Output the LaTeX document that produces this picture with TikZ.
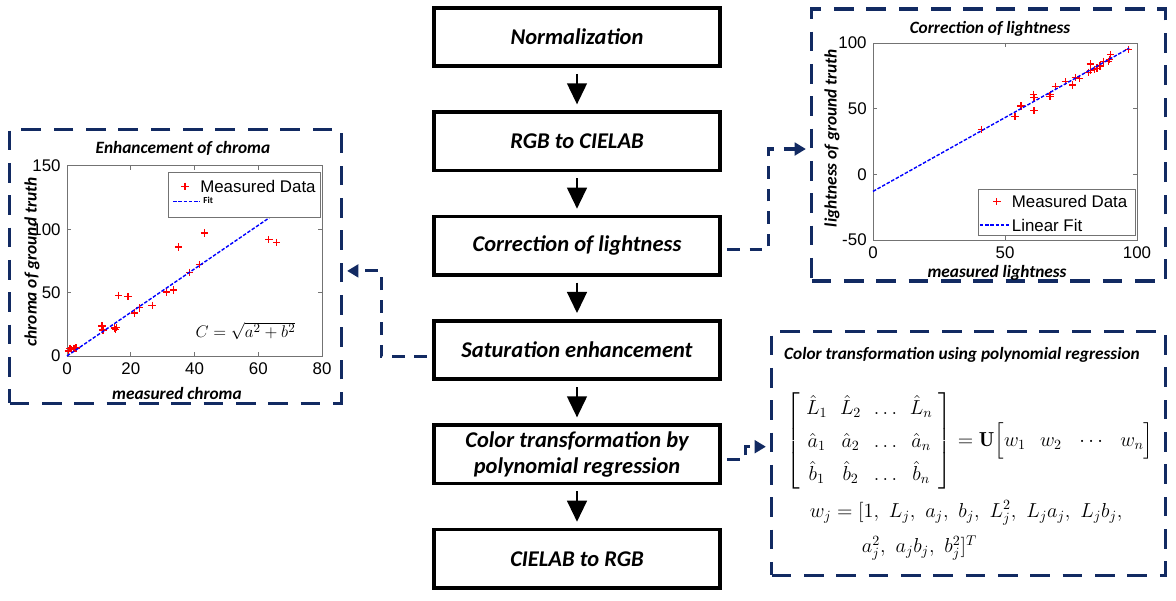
\documentclass[tikz,border=0pt]{standalone}
\usepackage{fontspec}
\usepackage{amsmath}
\newfontfamily\calfont{Carlito}
\newfontfamily\arialfont{Liberation Sans}
\usetikzlibrary{positioning, arrows.meta}
\definecolor{panelblue}{RGB}{18,42,98}
\tikzset{
    stage/.style={
        draw,
        line width=2.5pt,
        fill=white,
        minimum width=7.15cm,
        minimum height=1.46cm,
        align=center,
        font=\calfont\bfseries\itshape\fontsize{16}{19}\selectfont,
    },
    panel/.style={
        draw=panelblue,
        line width=2.5pt,
        dash pattern=on 14pt off 9pt,
        inner sep=0pt,
    },
    link/.style={
        draw=panelblue,
        line width=2.2pt,
        dash pattern=on 9pt off 7pt,
        shorten <=0.13cm,
        shorten >=0.1cm,
        -{Triangle[length=8pt,width=9pt]},
    },
    flow/.style={
        line width=1.7pt,
        shorten <=0.15cm,
        shorten >=0.15cm,
        -{Triangle[length=15pt,width=14pt]},
    },
    plottitle/.style={font=\calfont\bfseries\itshape\fontsize{12.3}{14}\selectfont},
    ticklabel/.style={font=\arialfont\fontsize{12}{14}\selectfont},
    plotframe/.style={draw=black!55, line width=0.6pt},
    fitline/.style={blue, line width=1pt, dash pattern=on 2.5pt off 1.2pt},
    datapt/.style={red, line width=0.9pt, only marks, mark=+, mark size=2.6pt},
    eqtext/.style={font=\fontsize{14.4}{17}\selectfont},
}

\begin{document}
\begin{tikzpicture}[x=0.025cm, y=-0.025cm, node distance=1.06cm]
   \useasboundingbox (0,0) rectangle (1176,600);
   \node[stage] (norm) at (577,37) {Normalization};
   \node[stage, below=of norm] (rgb2lab) {RGB to CIELAB};
   \node[stage, below=of rgb2lab] (light) {Correction of lightness};
   \node[stage, below=of light] (satur) {Saturation enhancement};
   \node[stage, below=of satur] (poly) {Color transformation by\\ polynomial regression};
   \node[stage, below=of poly] (lab2rgb) {CIELAB to RGB};
   \draw[flow] (norm.south) to (rgb2lab.north);
   \draw[flow] (rgb2lab.south) to (light.north);
   \draw[flow] (light.south) to (satur.north);
   \draw[flow] (satur.south) to (poly.north);
   \draw[flow] (poly.south) to (lab2rgb.north);

   \node[panel, minimum width=8.29cm, minimum height=6.84cm] (chromapanel) at (175.5,266.5) {};
   \node[panel, minimum width=8.84cm, minimum height=6.81cm] (lightpanel) at (988.5,145) {};
   \node[panel, minimum width=9.84cm, minimum height=6.09cm] (polypanel) at (968.5,453.5) {};
   \draw[link] ([yshift=-0.1cm]light.east) -- ++(47,0) |- ([yshift=-0.1cm]lightpanel.west);
   \draw[link] ([yshift=-0.17cm]satur.west) -- ++(-51,0) |- ([yshift=-0.11cm]chromapanel.east);
   \draw[link] ([yshift=-0.12cm]poly.east) -- ++(24,0) |- ([yshift=0.17cm]polypanel.west);

   \node[plottitle] (chromatitle) at (183,148) {Enhancement of chroma};
   \node[plottitle] (chromaxlabel) at (177,393) {measured chroma};
   \node[plottitle, rotate=90] (chromaylabel) at (32,262) {chroma of ground truth};
   \begin{scope}[shift={(67,356)}, x=0.0797cm, y=0.03167cm]
      \draw[plotframe] (0,0) rectangle (80,150);
      \foreach \u in {20,40,60} {
         \draw[plotframe] (\u,0) -- ++(0,3.2);
         \draw[plotframe] (\u,150) -- ++(0,-3.2);
      }
      \foreach \v in {50,100} {
         \draw[plotframe] (0,\v) -- ++(1.3,0);
         \draw[plotframe] (80,\v) -- ++(-1.3,0);
      }
      \foreach \u in {0,20,...,80}
         \node[ticklabel, below=1pt] (cx\u) at (\u,0) {\u};
      \foreach \v in {0,50,100,150}
         \node[ticklabel, left=1pt] (cy\v) at (0,\v) {\v};
      \draw[datapt] plot coordinates {(0.4,4) (0.9,6) (1.5,5) (2.2,6) (2.8,6.3)
         (11,23.7) (11.3,20.5) (15,22) (15.6,22.3) (15.2,20.8) (16.2,48) (19.1,47)
         (21.2,34) (22.8,38) (26.7,40) (31.2,50.5) (33.5,52) (35,86) (38.5,66)
         (41.6,72) (43.2,97) (63.3,92) (65.7,89.5)};
      \draw[fitline] (0,0) -- (63.4,109);
      \draw[plotframe, fill=white] (31.7,109) rectangle (79.4,144.5);
      \draw[datapt] plot coordinates {(37,134)};
      \node[ticklabel, right, inner sep=0pt] (chromakey1) at (41.7,134) {Measured Data};
      \draw[fitline] (33.3,121.8) -- (41.7,121.8);
      \node[font=\calfont\bfseries\fontsize{6.5}{7}\selectfont, right, inner sep=0pt] (chromakey2) at (42.7,122.8) {Fit};
      \node[font=\fontsize{13}{15}\selectfont] (chromaeq) at (56,20) {$C=\sqrt{a^2+b^2}$};
   \end{scope}

   \node[plottitle] (lighttitle) at (990,29) {Correction of lightness};
   \node[plottitle] (lightxlabel) at (997,273) {measured lightness};
   \node[plottitle, rotate=90] (lightylabel) at (832,138) {lightness of ground truth};
   \begin{scope}[shift={(873,174.3)}, x=0.066cm, y=0.03283cm]
      \draw[plotframe] (0,-50) rectangle (100,100);
      \draw[plotframe] (50,-50) -- ++(0,3);
      \draw[plotframe] (50,100) -- ++(0,-3);
      \foreach \v in {0,50} {
         \draw[plotframe] (0,\v) -- ++(1.5,0);
         \draw[plotframe] (100,\v) -- ++(-1.5,0);
      }
      \foreach \u in {0,50,100}
         \node[ticklabel, below=1pt] (lx\u) at (\u,-50) {\u};
      \foreach \v in {-50,0,50,100}
         \node[ticklabel, left=1pt] (ly\v) at (0,\v) {\v};
      \draw[datapt] plot coordinates {(41.1,34) (53.8,44) (56,52) (60.8,61) (61,58.6)
         (61,48.4) (67,59.5) (67.3,61) (69,67) (72.8,70.5) (75.6,68) (76.6,73.6)
         (78.2,73) (81.6,77.6) (82.3,84) (82.3,79) (83.8,79.6) (84.8,80.8) (86,82.5)
         (87.3,86) (89.2,86) (89.6,87.3) (90,91) (96.8,95)};
      \draw[fitline] (0,-13) -- (97,96);
      \draw[plotframe, fill=white] (39.8,-11.2) rectangle (99.2,-46.2);
      \draw[datapt] plot coordinates {(46.9,-20.9)};
      \node[ticklabel, right, inner sep=0pt] (lightkey1) at (52.5,-20.9) {Measured Data};
      \draw[fitline] (40.5,-38.6) -- (52,-38.6);
      \node[ticklabel, right, inner sep=0pt] (lightkey2) at (52.5,-38.6) {Linear Fit};
   \end{scope}

   \node[plottitle] (polytitle) at (962,355) {Color transformation using polynomial regression};
   \node[eqtext, anchor=west, inner sep=0pt] (polyeq) at (786,441) {$\displaystyle
      \setlength\arraycolsep{4.5pt}\renewcommand\arraystretch{1.38}
      \left[\begin{array}{cccc}
      \hat{L}_1 & \hat{L}_2 & \ldots & \hat{L}_n\\
      \hat{a}_1 & \hat{a}_2 & \ldots & \hat{a}_n\\
      \hat{b}_1 & \hat{b}_2 & \ldots & \hat{b}_n
      \end{array}\right]
      = \mathbf{U}\Bigl[w_1 \hspace{10pt} w_2 \hspace{10pt} \cdots \hspace{10pt} w_n\Bigr]$};
   \node[eqtext, anchor=west] (wline1) at (805,513) {$w_j = [1,\ L_j,\ a_j,\ b_j,\ L_j^2,\ L_ja_j,\ L_jb_j,$};
   \node[eqtext, anchor=west] (wline2) at (857,548) {$a_j^2,\ a_jb_j,\ b_j^2]^T$};
\end{tikzpicture}
\end{document}
